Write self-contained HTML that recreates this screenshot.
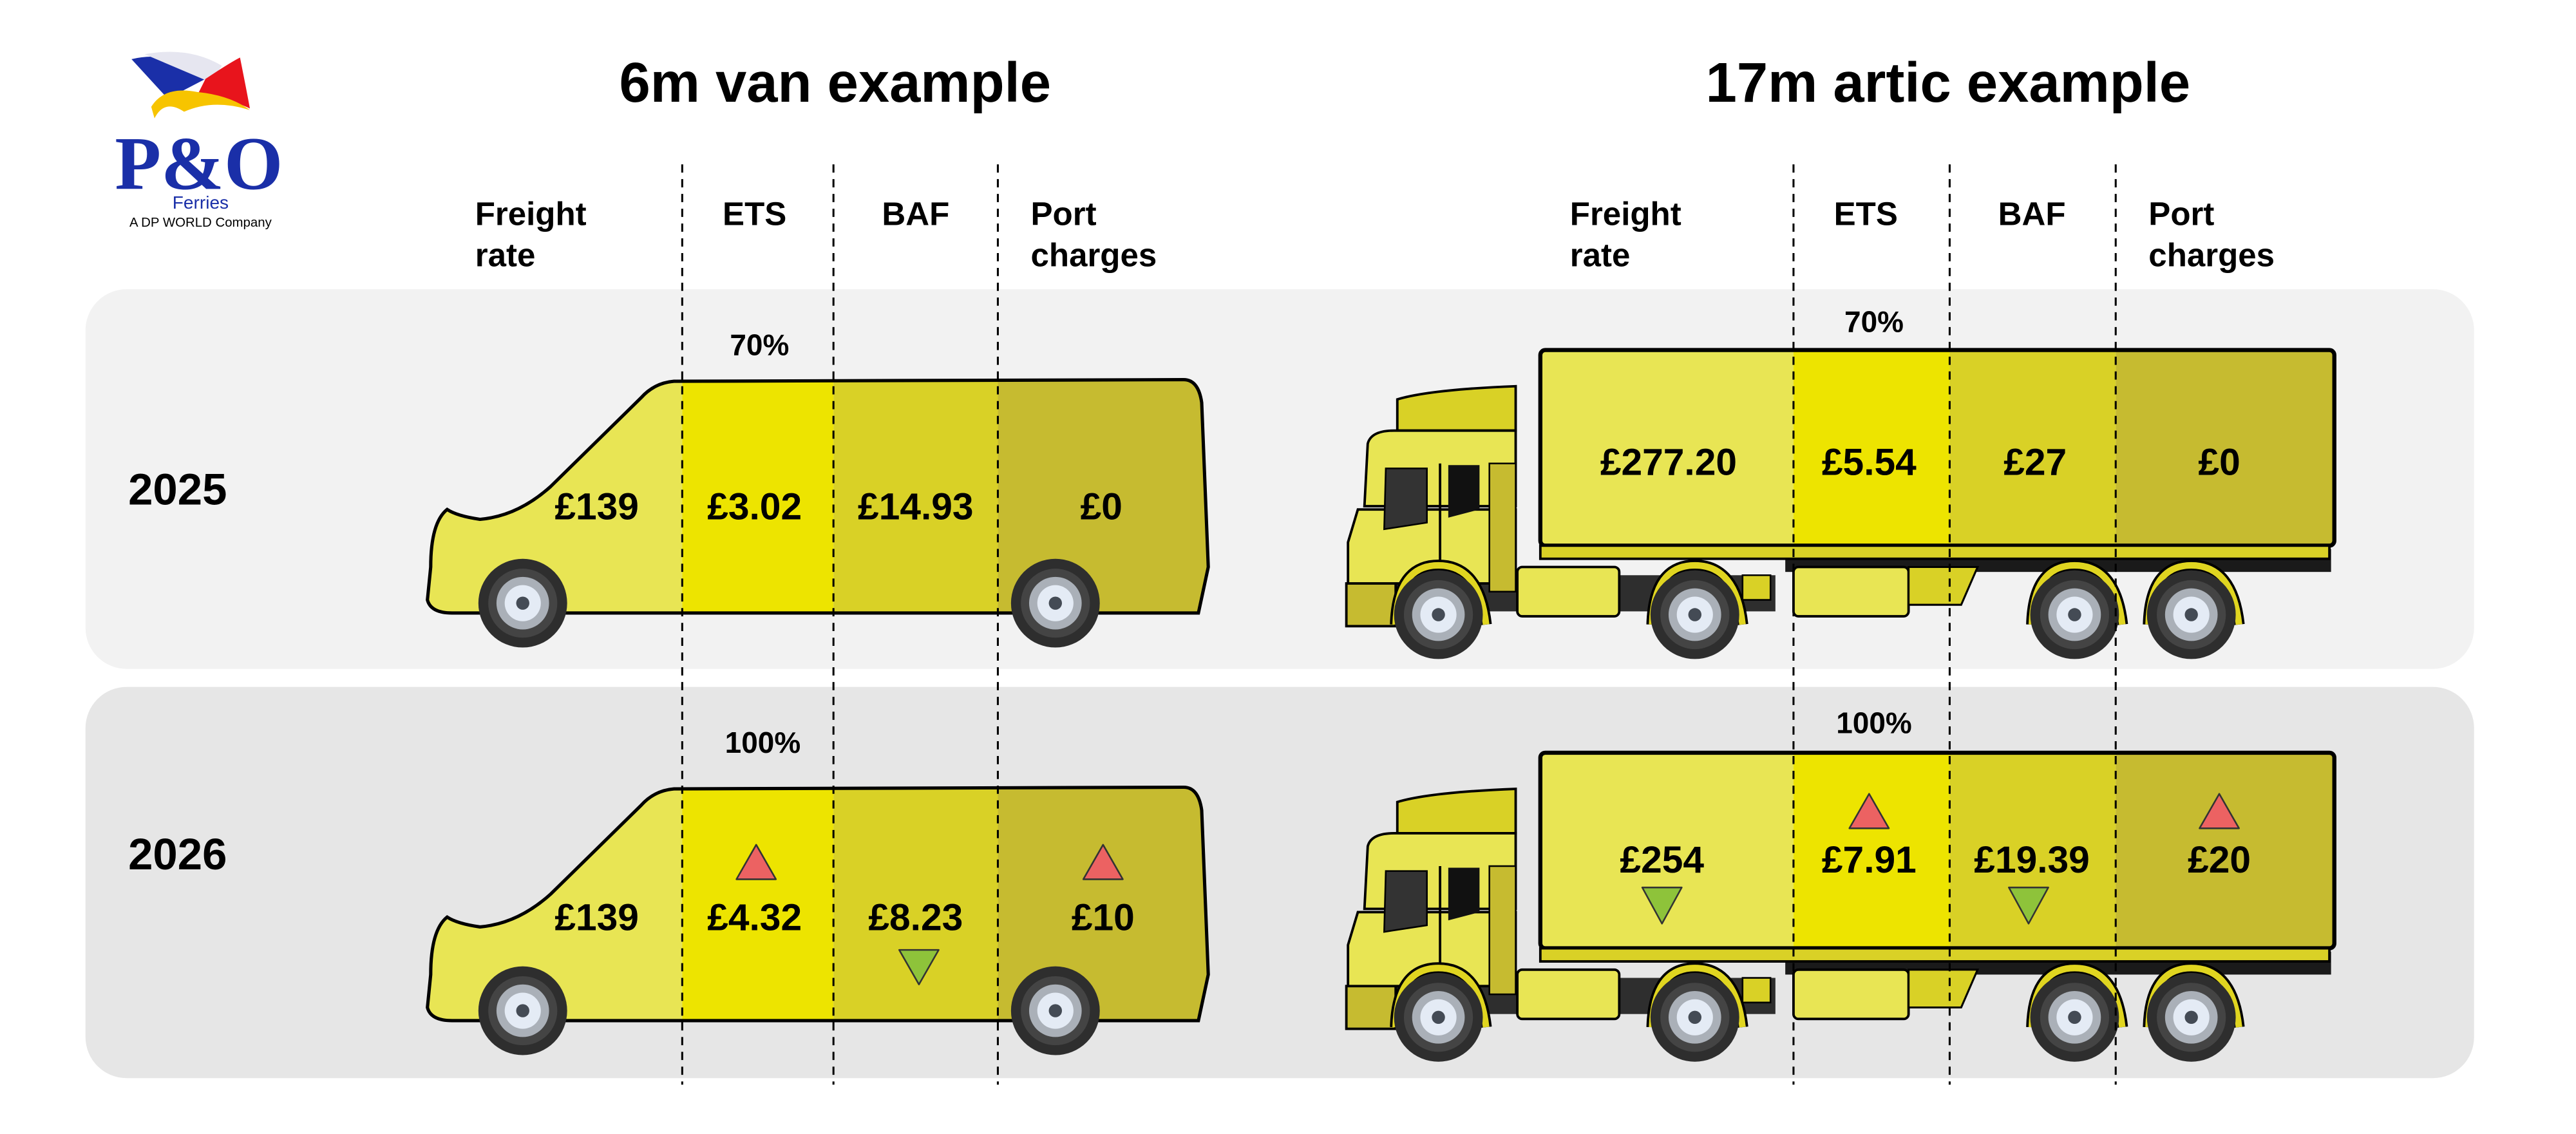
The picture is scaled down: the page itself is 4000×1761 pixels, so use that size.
<!DOCTYPE html>
<html><head><meta charset="utf-8"><style>
html,body{margin:0;padding:0;background:#fff;}
svg{display:block;}
text{font-family:"Liberation Sans",sans-serif;font-weight:bold;fill:#000;}
</style></head><body>
<svg width="4000" height="1761" viewBox="0 0 1567 690" preserveAspectRatio="none" xmlns="http://www.w3.org/2000/svg">
<defs>
<clipPath id="vanclip"><path d="M272,310 Q262,318 262,345 L260,365 Q262,373 275,373 L729,373 L735,345 L731,245 Q729,231 720,231 L410,232 Q398,233 390,242 L335,296 Q315,314 292,316 Q278,314 272,310 Z"/></clipPath>
<g id="wheel">
<circle r="27" fill="#2e2e2e"/><circle r="21" fill="#444"/><circle r="16" fill="#aab0b8"/><circle r="11" fill="#e4ebf5"/><circle r="4" fill="#444b55"/>
</g>
<g id="van">
<g clip-path="url(#vanclip)">
<rect x="250" y="220" width="165" height="160" fill="#e8e554"/>
<rect x="415" y="220" width="92" height="160" fill="#ede400"/>
<rect x="507" y="220" width="100" height="160" fill="#d9d126"/>
<rect x="607" y="220" width="140" height="160" fill="#c6bb30"/>
</g>
<path d="M272,310 Q262,318 262,345 L260,365 Q262,373 275,373 L729,373 L735,345 L731,245 Q729,231 720,231 L410,232 Q398,233 390,242 L335,296 Q315,314 292,316 Q278,314 272,310 Z" fill="none" stroke="#000" stroke-width="2"/>
<use href="#wheel" x="318" y="367"/>
<use href="#wheel" x="642" y="367"/>
</g>
<g id="truck">
<rect x="1086" y="334" width="332" height="14" fill="#1a1a1a"/>
<rect x="840" y="350" width="240" height="22" fill="#2e2e2e"/>
<rect x="937" y="213" width="154" height="119" fill="#e8e554"/>
<rect x="1091" y="213" width="95" height="119" fill="#ede400"/>
<rect x="1186" y="213" width="101" height="119" fill="#d9d126"/>
<rect x="1287" y="213" width="133" height="119" fill="#c6bb30"/>
<rect x="937" y="213" width="483" height="119" rx="3" fill="none" stroke="#000" stroke-width="2.5"/>
<rect x="937" y="332" width="480" height="8" fill="#d9d126" stroke="#000" stroke-width="1.5"/>
<path d="M850,243 Q870,237 922,235 L922,262 L850,262 Z" fill="#d9d126" stroke="#000" stroke-width="1.5"/>
<path d="M848,262 L922,262 L922,308 L830,308 L832,270 Q834,262 848,262Z" fill="#e8e554" stroke="#000" stroke-width="1.5"/>
<path d="M826,310 L922,310 L922,355 L850,355 Q838,360 834,368 L820,368 L820,330 Z" fill="#e8e554" stroke="#000" stroke-width="1.5"/>
<path d="M843,285 L868,285 L868,318 L842,322 Z" fill="#333" stroke="#000"/>
<path d="M881,283 L900,283 L900,310 L881,315 Z" fill="#111"/>
<line x1="876" y1="282" x2="876" y2="360" stroke="#000" stroke-width="1.5"/>
<rect x="906" y="282" width="16" height="78" fill="#c6bb30" stroke="#000" stroke-width="1"/>
<rect x="819" y="355" width="30" height="26" fill="#c6bb30" stroke="#000" stroke-width="1.5"/>
<rect x="923" y="345" width="62" height="30" rx="3" fill="#e8e554" stroke="#000" stroke-width="1.5"/>
<rect x="1091" y="345" width="70" height="30" rx="3" fill="#e8e554" stroke="#000" stroke-width="1.5"/>
<path d="M1161,345 L1203,345 L1193,368 L1161,368 Z" fill="#d9d126" stroke="#000" stroke-width="1.2"/>
<path d="M1060,350 L1077,350 L1077,365 L1060,365Z" fill="#d9d126" stroke="#000"/>
<path d="M849,380 Q850,344 875,344 Q900,344 904,380" fill="none" stroke="#000" stroke-width="7"/>
<path d="M849,380 Q850,344 875,344 Q900,344 904,380" fill="none" stroke="#e0d520" stroke-width="4"/>
<path d="M1005,380 Q1006,344 1031,344 Q1056,344 1060,380" fill="none" stroke="#000" stroke-width="7"/>
<path d="M1005,380 Q1006,344 1031,344 Q1056,344 1060,380" fill="none" stroke="#e0d520" stroke-width="4"/>
<path d="M1236,380 Q1237,344 1262,344 Q1287,344 1291,380" fill="none" stroke="#000" stroke-width="7"/>
<path d="M1236,380 Q1237,344 1262,344 Q1287,344 1291,380" fill="none" stroke="#e0d520" stroke-width="4"/>
<path d="M1307,380 Q1308,344 1333,344 Q1358,344 1362,380" fill="none" stroke="#000" stroke-width="7"/>
<path d="M1307,380 Q1308,344 1333,344 Q1358,344 1362,380" fill="none" stroke="#e0d520" stroke-width="4"/>
<use href="#wheel" x="875" y="374"/>
<use href="#wheel" x="1031" y="374"/>
<use href="#wheel" x="1262" y="374"/>
<use href="#wheel" x="1333" y="374"/>
</g>
</defs>

<rect x="52" y="176" width="1453" height="231" rx="25" fill="#f2f2f2"/>
<rect x="52" y="418" width="1453" height="238" rx="25" fill="#e6e6e6"/>

<path d="M80,36 Q105,30 125,48 L102,60 Z" fill="#1a2fa8"/>
<path d="M88,33 Q115,28 135,40 L128,50 Z" fill="#e6e6f0"/>
<path d="M125,48 Q140,38 146,35 Q150,55 152,66 Q135,58 120,58 Z" fill="#e8141c"/>
<path d="M92,65 Q100,52 120,56 Q140,58 152,67 Q130,60 112,68 Q100,60 94,72 Z" fill="#f7c400"/>
<text x="121" y="115" text-anchor="middle" font-size="46" style="fill:#1a2fa8;font-family:'Liberation Serif',serif">P&amp;O</text>
<text x="122" y="127" text-anchor="middle" font-size="11" style="fill:#1a2fa8;font-weight:normal">Ferries</text>
<text x="122" y="138" text-anchor="middle" font-size="8" style="font-weight:normal">A DP WORLD Company</text>

<text x="508" y="62" text-anchor="middle" font-size="34">6m van example</text>
<text x="1185" y="62" text-anchor="middle" font-size="34">17m artic example</text>

<g font-size="20">
<text x="289" y="137">Freight</text><text x="289" y="162">rate</text>
<text x="459" y="137" text-anchor="middle">ETS</text>
<text x="557" y="137" text-anchor="middle">BAF</text>
<text x="627" y="137">Port</text><text x="627" y="162">charges</text>
<text x="955" y="137">Freight</text><text x="955" y="162">rate</text>
<text x="1135" y="137" text-anchor="middle">ETS</text>
<text x="1236" y="137" text-anchor="middle">BAF</text>
<text x="1307" y="137">Port</text><text x="1307" y="162">charges</text>
</g>

<text x="78" y="307" font-size="27">2025</text>
<text x="78" y="529" font-size="27">2026</text>

<use href="#van"/>
<use href="#van" y="248"/>
<use href="#truck"/>
<use href="#truck" y="245"/>

<g stroke="#000" stroke-width="1.2" stroke-dasharray="5,4">
<line x1="415" y1="100" x2="415" y2="660"/>
<line x1="507" y1="100" x2="507" y2="660"/>
<line x1="607" y1="100" x2="607" y2="660"/>
<line x1="1091" y1="100" x2="1091" y2="660"/>
<line x1="1186" y1="100" x2="1186" y2="660"/>
<line x1="1287" y1="100" x2="1287" y2="660"/>
</g>

<g font-size="18">
<text x="462" y="216" text-anchor="middle">70%</text>
<text x="464" y="458" text-anchor="middle">100%</text>
<text x="1140" y="202" text-anchor="middle">70%</text>
<text x="1140" y="446" text-anchor="middle">100%</text>
</g>

<g font-size="23" text-anchor="middle">
<text x="363" y="316">£139</text><text x="459" y="316">£3.02</text><text x="557" y="316">£14.93</text><text x="670" y="316">£0</text>
<text x="363" y="566">£139</text><text x="459" y="566">£4.32</text><text x="557" y="566">£8.23</text><text x="671" y="566">£10</text>
<text x="1015" y="289">£277.20</text><text x="1137" y="289">£5.54</text><text x="1238" y="289">£27</text><text x="1350" y="289">£0</text>
<text x="1011" y="531">£254</text><text x="1137" y="531">£7.91</text><text x="1236" y="531">£19.39</text><text x="1350" y="531">£20</text>
</g>

<g stroke="#333" stroke-width="1" stroke-linejoin="round">
<path d="M460,514 L472,535 L448,535 Z" fill="#ec6262"/>
<path d="M671,514 L683,535 L659,535 Z" fill="#ec6262"/>
<path d="M547,578 L571,578 L559,599 Z" fill="#8ec33a"/>
<path d="M1137,483 L1149,504 L1125,504 Z" fill="#ec6262"/>
<path d="M1350,483 L1362,504 L1338,504 Z" fill="#ec6262"/>
<path d="M999,540 L1023,540 L1011,562 Z" fill="#8ec33a"/>
<path d="M1222,540 L1246,540 L1234,562 Z" fill="#8ec33a"/>
</g>
</svg>
</body></html>
